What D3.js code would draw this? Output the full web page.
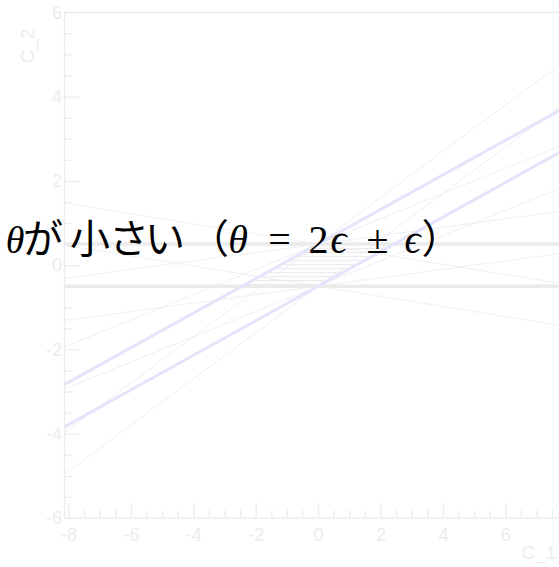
<!DOCTYPE html>
<html><head><meta charset="utf-8">
<script src="https://cdn.jsdelivr.net/npm/d3@7"></script>
<style>html,body{margin:0;padding:0;background:#fff;} svg{display:block;}</style>
</head><body><svg id="chart" width="559" height="567"></svg>
<script>
// Axis ticks
const xTickValues = [-8, -6, -4, -2, 0, 2, 4, 6];
const xTickLabels = ["-8", "-6", "-4", "-2", "0", "2", "4", "6"];
const yTickValues = [-6, -4, -2, 0, 2, 4, 6];
const yTickLabels = ["-6", "-4", "-2", "0", "2", "4", "6"];
const minorStep = 0.5;

// Two bands, each bounded by y = slope * x + offset
const bandOffsets = [-0.5, 0.5];
const flatSlope = 0;
const tiltSlope = 0.41;
// The same boundaries rotated by -ε and +ε
const flatSlopesRotated = [-0.12, 0.10];
const tiltSlopesRotated = [0.30, 0.55];

// Heading glyphs and their centres
const titleGlyphs = [
  { t: "θ", cx: 15, math: true, italic: true, size: 38 },
  { t: "が", cx: 43 }, { t: "小", cx: 90 }, { t: "さ", cx: 129 }, { t: "い", cx: 165 },
  { t: "（", cx: 209 },
  { t: "θ", cx: 238, math: true, italic: true },
  { t: "=", cx: 279.5, math: true },
  { t: "2", cx: 318.5, math: true },
  { t: "ϵ", cx: 338.5, math: true, italic: true },
  { t: "±", cx: 377.5, math: true },
  { t: "ϵ", cx: 412.5, math: true, italic: true },
  { t: "）", cx: 441.5 }
];

const svg = d3.select("#chart");
svg.append("rect").attr("width", 559).attr("height", 567).attr("fill", "#fff");

const frame = { left: 64.5, right: 572, top: 12.3, bottom: 518 };
const x = d3.scaleLinear().domain([-8, 8]).range([68.5, 567.7]);
const y = d3.scaleLinear().domain([-6, 6]).range([frame.bottom, frame.top]);

const axisColor = "#ececec";

svg.append("clipPath").attr("id", "plot-clip")
  .append("rect")
  .attr("x", frame.left).attr("y", frame.top)
  .attr("width", frame.right - frame.left).attr("height", frame.bottom - frame.top);

// Hatch pattern for the overlap of the two bands
const pat = svg.append("defs").append("pattern")
  .attr("id", "hatch").attr("patternUnits", "userSpaceOnUse")
  .attr("width", 8).attr("height", 4);
pat.append("rect").attr("x", 0).attr("y", 0).attr("width", 8).attr("height", 1.2).attr("fill", "#ececec");

const plot = svg.append("g").attr("clip-path", "url(#plot-clip)");

const xSpan = [x.invert(frame.left) - 0.5, x.invert(frame.right) + 0.5];
const line = d3.line().x(d => x(d[0])).y(d => y(d[1]));
const boundary = (m, b) => xSpan.map(xv => [xv, m * xv + b]);

// thin rotated boundaries
flatSlopesRotated.forEach(m => bandOffsets.forEach(b => {
  plot.append("path").attr("d", line(boundary(m, b)))
    .attr("fill", "none").attr("stroke", "#efefef").attr("stroke-width", 1);
}));
tiltSlopesRotated.forEach(m => bandOffsets.forEach(b => {
  plot.append("path").attr("d", line(boundary(m, b)))
    .attr("fill", "none").attr("stroke", "#eeeef8").attr("stroke-width", 1);
}));

// overlap of the two bands
const lo = bandOffsets[0], hi = bandOffsets[1];
const overlap = [
  [(lo - hi) / tiltSlope, lo], [(lo - lo) / tiltSlope, lo],
  [(hi - lo) / tiltSlope, hi], [(hi - hi) / tiltSlope, hi]
];
plot.append("path").attr("d", line(overlap) + "Z").attr("fill", "url(#hatch)");

// band boundaries
bandOffsets.forEach(b => {
  plot.append("path").attr("d", line(boundary(flatSlope, b)))
    .attr("fill", "none").attr("stroke", "#ebebeb").attr("stroke-width", 3.5);
});
bandOffsets.forEach(b => {
  plot.append("path").attr("d", line(boundary(tiltSlope, b)))
    .attr("fill", "none").attr("stroke", "#e4e4fa").attr("stroke-width", 3);
});

// frame
const fr = svg.append("g").attr("stroke", axisColor).attr("stroke-width", 1.3).attr("fill", "none");
fr.append("line").attr("x1", frame.left).attr("x2", frame.right).attr("y1", frame.top).attr("y2", frame.top);
fr.append("line").attr("x1", frame.left).attr("x2", frame.right).attr("y1", frame.bottom).attr("y2", frame.bottom);
fr.append("line").attr("x1", frame.left).attr("x2", frame.left).attr("y1", frame.top).attr("y2", frame.bottom);

const minorX = d3.range(-8, 8 + 1e-9, minorStep).filter(v => !xTickValues.includes(v));
const minorY = d3.range(-6, 6 + 1e-9, minorStep).filter(v => !yTickValues.includes(v));

function styleAxis(g) {
  g.select(".domain").remove();
  g.selectAll("line").attr("stroke", axisColor).attr("stroke-width", 1.2);
  g.selectAll("text").attr("fill", axisColor)
    .attr("font-family", "'Liberation Sans', Arial, sans-serif").attr("font-size", 18);
}

svg.append("g").attr("transform", `translate(0,${frame.bottom})`)
  .call(d3.axisBottom(x).tickValues(xTickValues).tickFormat((d, i) => xTickLabels[i])
    .tickSizeInner(-15).tickSizeOuter(0).tickPadding(10)).call(styleAxis);
svg.append("g").attr("transform", `translate(0,${frame.bottom})`)
  .call(d3.axisBottom(x).tickValues(minorX).tickFormat("")
    .tickSizeInner(-8).tickSizeOuter(0)).call(styleAxis);

svg.append("g").attr("transform", `translate(${frame.left},0)`)
  .call(d3.axisLeft(y).tickValues(yTickValues).tickFormat((d, i) => yTickLabels[i])
    .tickSizeInner(-15).tickSizeOuter(0).tickPadding(2.5)).call(styleAxis);
svg.append("g").attr("transform", `translate(${frame.left},0)`)
  .call(d3.axisLeft(y).tickValues(minorY).tickFormat("")
    .tickSizeInner(-8).tickSizeOuter(0)).call(styleAxis);

// axis titles
svg.append("text").attr("transform", "translate(34,46) rotate(-90)")
  .attr("text-anchor", "middle").attr("fill", axisColor)
  .attr("font-family", "'Liberation Sans', Arial, sans-serif").attr("font-size", 19)
  .text("C_2");
svg.append("text").attr("x", 539).attr("y", 559)
  .attr("text-anchor", "middle").attr("fill", axisColor)
  .attr("font-family", "'Liberation Sans', Arial, sans-serif").attr("font-size", 19)
  .text("C_1");

// heading
const head = svg.append("g");
titleGlyphs.forEach(g => {
  head.append("text")
    .attr("x", g.cx).attr("y", 253)
    .attr("text-anchor", "middle")
    .attr("fill", "#000")
    .attr("font-family", g.math ? "'Liberation Serif', 'DejaVu Serif', serif" : "'Noto Sans CJK JP', sans-serif")
    .attr("font-style", g.italic ? "italic" : "normal")
    .attr("font-size", g.size || (g.math ? 40 : 40))
    .text(g.t);
});
</script></body></html>
